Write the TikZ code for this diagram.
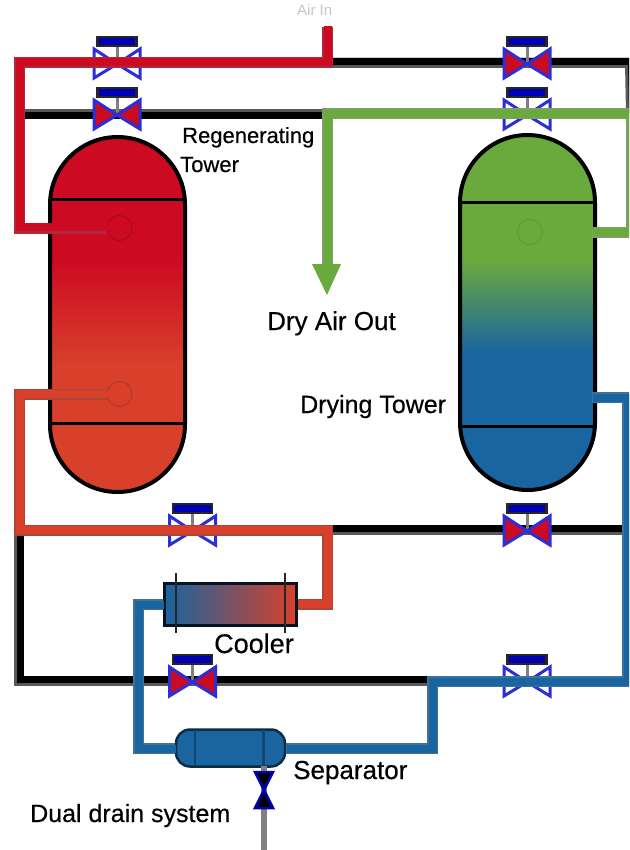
\documentclass[tikz,border=0pt]{standalone}
\usepackage{fontspec}
\setmainfont{Liberation Sans}
\newfontfamily\lblfont[FakeBold=0.4]{Liberation Sans}
\definecolor{pred}{HTML}{CC0A22}
\definecolor{pora}{HTML}{D8402B}
\definecolor{pgrn}{HTML}{6AA93C}
\definecolor{pblu}{HTML}{1A649F}
\definecolor{sred}{HTML}{B0283C}
\definecolor{sora}{HTML}{AE4638}
\definecolor{sgrn}{HTML}{7FA064}
\definecolor{sblu}{HTML}{3F7199}
\definecolor{sblk}{HTML}{595959}
\definecolor{vblu}{HTML}{2E2ED8}
\definecolor{vbar}{HTML}{0000B4}
\pgfdeclareverticalshading{ltowershade}{100bp}{color(0bp)=(pora); color(42.9bp)=(pora); color(57.7bp)=(pred); color(100bp)=(pred)}
\pgfdeclareverticalshading{rtowershade}{100bp}{color(0bp)=(pblu); color(44.4bp)=(pblu); color(57.3bp)=(pgrn); color(100bp)=(pgrn)}
\newcommand\Pt[1]{([shift={(\pdx,\pdy)}]#1)}
\def\pwa{10pt}\def\pwb{7pt}
% shadow colour, main colour, main offset x, main offset y, path
\newcommand\pipe[5]{%
  \def\pdx{0pt}\def\pdy{0pt}\draw[pipeline,line width=\pwa,draw=#1] #5;
  \def\pdx{#3}\def\pdy{#4}\draw[pipeline,line width=\pwb,draw=#2] #5;}
\newcommand\valve[4]{%
  \coordinate (#1) at (#2,#3);
  \begin{scope}[shift={(#2,#3)}]
    \draw[valvestem] (0,-17) -- (0,0);
    \draw[valvebar] (-19.5,-26) rectangle (19.5,-17);
    \draw[valvewing,fill=#4] (-23,-14) -- (0,1) -- (-23,15) -- cycle;
    \draw[valvewing,fill=#4] (23,-14) -- (0,1) -- (23,15) -- cycle;
  \end{scope}}
\tikzset{
  pipeline/.style={line join=miter,line cap=butt},
  valvestem/.style={draw=gray,line width=3pt},
  valvebar/.style={draw=black!85,line width=2.5pt,fill=vbar},
  valvewing/.style={draw=vblu,line width=3pt,line join=miter},
  tower/.style={draw=black,line width=4pt,minimum width=135pt,minimum height=355pt,inner sep=0pt,rounded corners=67.5pt,shade},
  band/.style={draw=black,line width=3pt},
  port/.style={circle,minimum size=25pt,inner sep=0pt,outer sep=0pt,line width=1pt},
  lbl/.style={anchor=base west,inner sep=0pt,text=black},
}
\begin{document}
\begin{tikzpicture}[x=1pt,y=-1pt]
\clip (0,0) rectangle (629,850);
\fill[white] (0,0) rectangle (629,850);
% routing points
\coordinate (redtop) at (327,27);
\coordinate (top) at (327,63);
\coordinate (topr) at (630,63);
\coordinate (tl) at (19,63);
\coordinate (midl) at (19,114);
\coordinate (midc) at (327,114);
\coordinate (midr) at (631,114);
\coordinate (greenin) at (592,232);
\coordinate (greenr) at (631,232);
\coordinate (l1) at (19,228);
\coordinate (l2) at (19,394);
\coordinate (low) at (19,530);
\coordinate (lowc) at (327,530);
\coordinate (lowr) at (626,530);
\coordinate (coolr) at (327,604);
\coordinate (bot) at (19,681);
\coordinate (botc) at (432,681);
\coordinate (botr) at (627,681);
\coordinate (bluein) at (592,397);
\coordinate (bluer) at (627,397);
\coordinate (sepr) at (432,748);
\coordinate (sepl) at (138,748);
\coordinate (cooll) at (138,604);
\coordinate (draintop) at (264,766);
\coordinate (drainend) at (264,850);
\coordinate (arrowstart) at (327,266);
% towers
\node[tower,shading=ltowershade] (ltower) at (117.5,314.5) {};
\node[tower,shading=rtowershade] (rtower) at (527.5,312.5) {};
\draw[band] (50,200) -- (185,200);
\draw[band] (50,423) -- (185,423);
\draw[band] (460,203) -- (595,203);
\draw[band] (460,426) -- (595,426);
\node[port,draw=pred!85!black] (lport1) at (119.5,228) {};
\node[port,draw=pora!85!black] (lport2) at (119.5,394) {};
\node[port,draw=pgrn!92!black] (rport1) at (530,232) {};
% black pipes
\pipe{sblk}{black}{1.5pt}{1.5pt}{\Pt{top} -- \Pt{topr} -- \Pt{midr}}
\pipe{sblk}{black}{0pt}{-1.5pt}{\Pt{midl} -- \Pt{midc}}
\pipe{sblk}{black}{1.5pt}{1.5pt}{\Pt{lowc} -- \Pt{lowr}}
\pipe{sblk}{black}{1.5pt}{1.5pt}{\Pt{low} -- \Pt{bot} -- \Pt{botc}}
% open valves (the pipe runs over them)
\valve{v1}{117}{63}{white}
\valve{v4}{527}{114}{white}
\valve{v5}{192.5}{530}{white}
\valve{v8}{527}{681}{white}
% coolers and vessels
\node[draw=black!80!pblu,line width=3pt,left color=pblu,right color=pora,minimum width=132pt,minimum height=42pt,inner sep=0pt] (cooler) at (230.5,604) {};
\draw[draw=black!85,line width=2pt] (176,573) -- (176,633);
\draw[draw=black!85,line width=2pt] (284.5,573) -- (284.5,633);
\node[draw=pblu!45!black,line width=2.5pt,fill=pblu,minimum width=109pt,minimum height=37pt,inner sep=0pt,rounded corners=14pt] (separator) at (230.5,748) {};
\draw[draw=pblu!70!black,line width=1.5pt] (195,730) -- (195,766);
\draw[draw=pblu!70!black,line width=3pt] (263,730) -- (263,766);
% coloured pipes
\def\pwa{11pt}\def\pwb{8.5pt}
\pipe{sred}{pred}{1.2pt}{1.2pt}{\Pt{redtop} -- \Pt{top} -- \Pt{tl} -- \Pt{l1} -- \Pt{lport1.west}}
\pipe{sora}{pora}{1.2pt}{0pt}{\Pt{lport2.west} -- \Pt{l2} -- \Pt{low} -- \Pt{lowc} -- \Pt{coolr} -- \Pt{cooler.east}}
\pipe{sblu}{pblu}{1.2pt}{-1.2pt}{\Pt{bluein} -- \Pt{bluer} -- \Pt{botr} -- \Pt{botc} -- \Pt{sepr} -- \Pt{separator.east}}
\pipe{sblu}{pblu}{1.2pt}{-1.2pt}{\Pt{separator.west} -- \Pt{sepl} -- \Pt{cooll} -- \Pt{cooler.west}}
\pipe{sgrn}{pgrn}{1pt}{0pt}{\Pt{arrowstart} -- \Pt{midc} -- \Pt{midr} -- \Pt{greenr} -- \Pt{greenin}}
\fill[pgrn] (312,264) -- (341,264) -- (327,295) -- cycle;
% closed valves
\valve{v2}{117}{114}{pred}
\valve{v3}{527}{63}{pred}
\valve{v6}{527}{530}{pred}
\valve{v7}{192.5}{681}{pred}
% drain
\draw[draw=gray,line width=6pt] (draintop) -- (drainend);
\coordinate (drainv) at (264,790);
\draw[draw=vbar,line width=2.5pt,fill=black] (255,772) -- (273,772) -- (drainv) -- cycle;
\draw[draw=vbar,line width=2.5pt,fill=black] (255,808) -- (273,808) -- (drainv) -- cycle;
% labels
\node[anchor=base west,inner sep=0pt,text=black!22,font=\fontsize{15}{17}\selectfont] (tin) at (297,16) {Air In};
\node[lbl,font=\lblfont\fontsize{22}{24}\selectfont] (tr1) at (182,143) {Regenerating};
\node[lbl,font=\lblfont\fontsize{22}{24}\selectfont] (tr2) at (180,172) {Tower};
\node[lbl,font=\lblfont\fontsize{26}{28}\selectfont] (tdry) at (267,330) {Dry Air Out};
\node[lbl,font=\lblfont\fontsize{25}{27}\selectfont] (tdt) at (300,413) {Drying Tower};
\node[lbl,font=\lblfont\fontsize{27}{29}\selectfont] (tcool) at (214,653) {Cooler};
\node[lbl,font=\lblfont\fontsize{26}{28}\selectfont] (tsep) at (293,779) {Separator};
\node[lbl,font=\lblfont\fontsize{25}{27}\selectfont] (tdrain) at (30,822) {Dual drain system};
\end{tikzpicture}
\end{document}
